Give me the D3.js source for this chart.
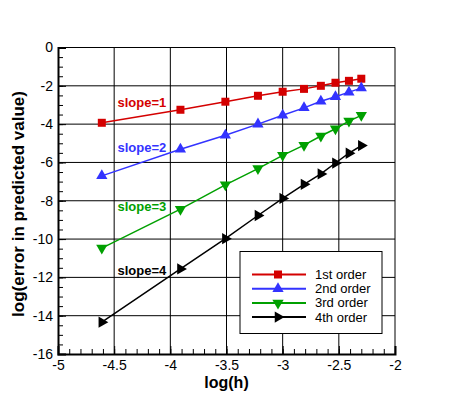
<!DOCTYPE html>
<html>
<head>
<meta charset="utf-8">
<script src="https://cdn.jsdelivr.net/npm/d3@7"></script>
<style>
  body { margin: 0; background: #fff; }
  svg { font-family: "Liberation Sans", Arial, Helvetica, sans-serif; }
</style>
</head>
<body>
<svg id="chart" width="450" height="400"></svg>
<script>
// log(h) for h = 0.01 ... 0.1
var logH = [-4.61, -3.91, -3.51, -3.22, -3.00, -2.81, -2.66, -2.53, -2.41, -2.30];
// log(error)
var err1 = [-3.93, -3.25, -2.83, -2.52, -2.31, -2.16, -2.00, -1.84, -1.74, -1.63];
var err2 = [-6.70, -5.31, -4.58, -4.00, -3.54, -3.15, -2.81, -2.57, -2.33, -2.12];
var err3 = [-10.47, -8.44, -7.17, -6.32, -5.63, -5.10, -4.62, -4.24, -3.84, -3.54];
var err4 = [-14.34, -11.56, -9.98, -8.77, -7.88, -7.14, -6.60, -6.03, -5.52, -5.12];
var seriesNames = ["1st order", "2nd order", "3rd order", "4th order"];
var slopeLabels = ["slope=1", "slope=2", "slope=3", "slope=4"];
var slopeLabelPos = [[-4.47, -3.1], [-4.47, -5.45], [-4.47, -8.55], [-4.47, -11.9]];
var xTicks = [-5, -4.5, -4, -3.5, -3, -2.5, -2];
var yTicks = [0, -2, -4, -6, -8, -10, -12, -14, -16];

var colors = ["#d40000", "#3333ff", "#00a000", "#000000"];
var rotations = [0, 0, 180, 90];
var symbols = [d3.symbolSquare, d3.symbolTriangle, d3.symbolTriangle, d3.symbolTriangle];
var sizes = [64, 55, 55, 55];

var allErr = [err1, err2, err3, err4];
var series = allErr.map(function(e, i){
  return { name: seriesNames[i], values: logH.map(function(x, j){ return {x: x, y: e[j]}; }) };
});

var pLeft = 58, pRight = 395, pTop = 47.5, pBottom = 354;
var xScale = d3.scaleLinear().domain([-5, -2]).range([pLeft, pRight]);
var yScale = d3.scaleLinear().domain([0, -16]).range([pTop, pBottom]);

var svg = d3.select("#chart");

// gridlines
svg.append("g").selectAll("line")
  .data(xTicks.slice(1, -1)).enter().append("line")
  .attr("x1", d => xScale(d)).attr("x2", d => xScale(d))
  .attr("y1", pTop).attr("y2", pBottom)
  .attr("stroke", "black").attr("stroke-width", 1);
svg.append("g").selectAll("line")
  .data(yTicks.slice(1, -1)).enter().append("line")
  .attr("y1", d => yScale(d)).attr("y2", d => yScale(d))
  .attr("x1", pLeft).attr("x2", pRight)
  .attr("stroke", "black").attr("stroke-width", 1);

// frame top/right
svg.append("path")
  .attr("d", "M" + pLeft + "," + pTop + "H" + pRight + "V" + pBottom)
  .attr("fill", "none").attr("stroke", "black").attr("stroke-width", 1);

// minor ticks
var xMinor = d3.range(-50, -19).map(d => d / 10);
var yMinor = d3.range(0, 33).map(d => -d / 2);
svg.append("g")
  .attr("transform", "translate(0," + pBottom + ")")
  .call(d3.axisBottom(xScale).tickValues(xMinor).tickSize(-5).tickFormat(""))
  .call(g => g.select(".domain").remove());
svg.append("g")
  .attr("transform", "translate(" + pLeft + ",0)")
  .call(d3.axisLeft(yScale).tickValues(yMinor).tickSize(-5).tickFormat(""))
  .call(g => g.select(".domain").remove());

// major axes
var xAxis = d3.axisBottom(xScale).tickValues(xTicks).tickSize(-8).tickPadding(3)
  .tickFormat(d => String(d));
var yAxis = d3.axisLeft(yScale).tickValues(yTicks).tickSize(-8).tickPadding(5)
  .tickFormat(d => String(d));
var gx = svg.append("g").attr("transform", "translate(0," + pBottom + ")").call(xAxis);
var gy = svg.append("g").attr("transform", "translate(" + pLeft + ",0)").call(yAxis);
[gx, gy].forEach(function(g){
  g.select(".domain").attr("stroke-width", 2).attr("stroke", "black");
  g.selectAll(".tick line").attr("stroke", "black");
  g.selectAll("text").attr("font-size", 14).attr("fill", "black")
    .attr("font-family", "Liberation Sans, Arial, sans-serif");
});
gx.selectAll("text").attr("dy", "0.9em");

// axis titles
svg.append("text")
  .attr("x", (pLeft + pRight) / 2).attr("y", 388)
  .attr("text-anchor", "middle").attr("font-size", 16).attr("font-weight", "bold")
  .text("log(h)");
svg.append("text")
  .attr("transform", "translate(24," + 204 + ") rotate(-90)")
  .attr("text-anchor", "middle").attr("font-size", 17).attr("font-weight", "bold")
  .text("log(error in predicted value)");

// lines
var linemaker = d3.line().x(d => xScale(d.x)).y(d => yScale(d.y));
series.forEach(function(s, i){
  svg.append("path")
    .attr("d", linemaker(s.values))
    .attr("fill", "none").attr("stroke", colors[i]).attr("stroke-width", 1.5);
  svg.append("g").selectAll("path")
    .data(s.values).enter().append("path")
    .attr("d", d3.symbol().type(symbols[i]).size(sizes[i]))
    .attr("transform", d => "translate(" + xScale(d.x) + "," + yScale(d.y) + ") rotate(" + rotations[i] + ")")
    .attr("fill", colors[i]);
  svg.append("text")
    .attr("x", xScale(slopeLabelPos[i][0])).attr("y", yScale(slopeLabelPos[i][1]))
    .attr("font-size", 13).attr("font-weight", "bold").attr("fill", colors[i])
    .text(slopeLabels[i]);
});

// legend
var legend = svg.append("g").attr("transform", "translate(240,251.5)");
legend.append("rect")
  .attr("width", 142).attr("height", 82)
  .attr("fill", "white").attr("stroke", "black").attr("stroke-width", 1);
series.forEach(function(s, i){
  var y = 23 + i * 14.2;
  legend.append("line")
    .attr("x1", 12).attr("x2", 66).attr("y1", y).attr("y2", y)
    .attr("stroke", colors[i]).attr("stroke-width", 2);
  legend.append("path")
    .attr("d", d3.symbol().type(symbols[i]).size(sizes[i]))
    .attr("transform", "translate(38," + y + ") rotate(" + rotations[i] + ")")
    .attr("fill", colors[i]);
  legend.append("text")
    .attr("x", 75).attr("y", y + 4.5)
    .attr("font-size", 13).text(s.name);
});
</script>
</body>
</html>
